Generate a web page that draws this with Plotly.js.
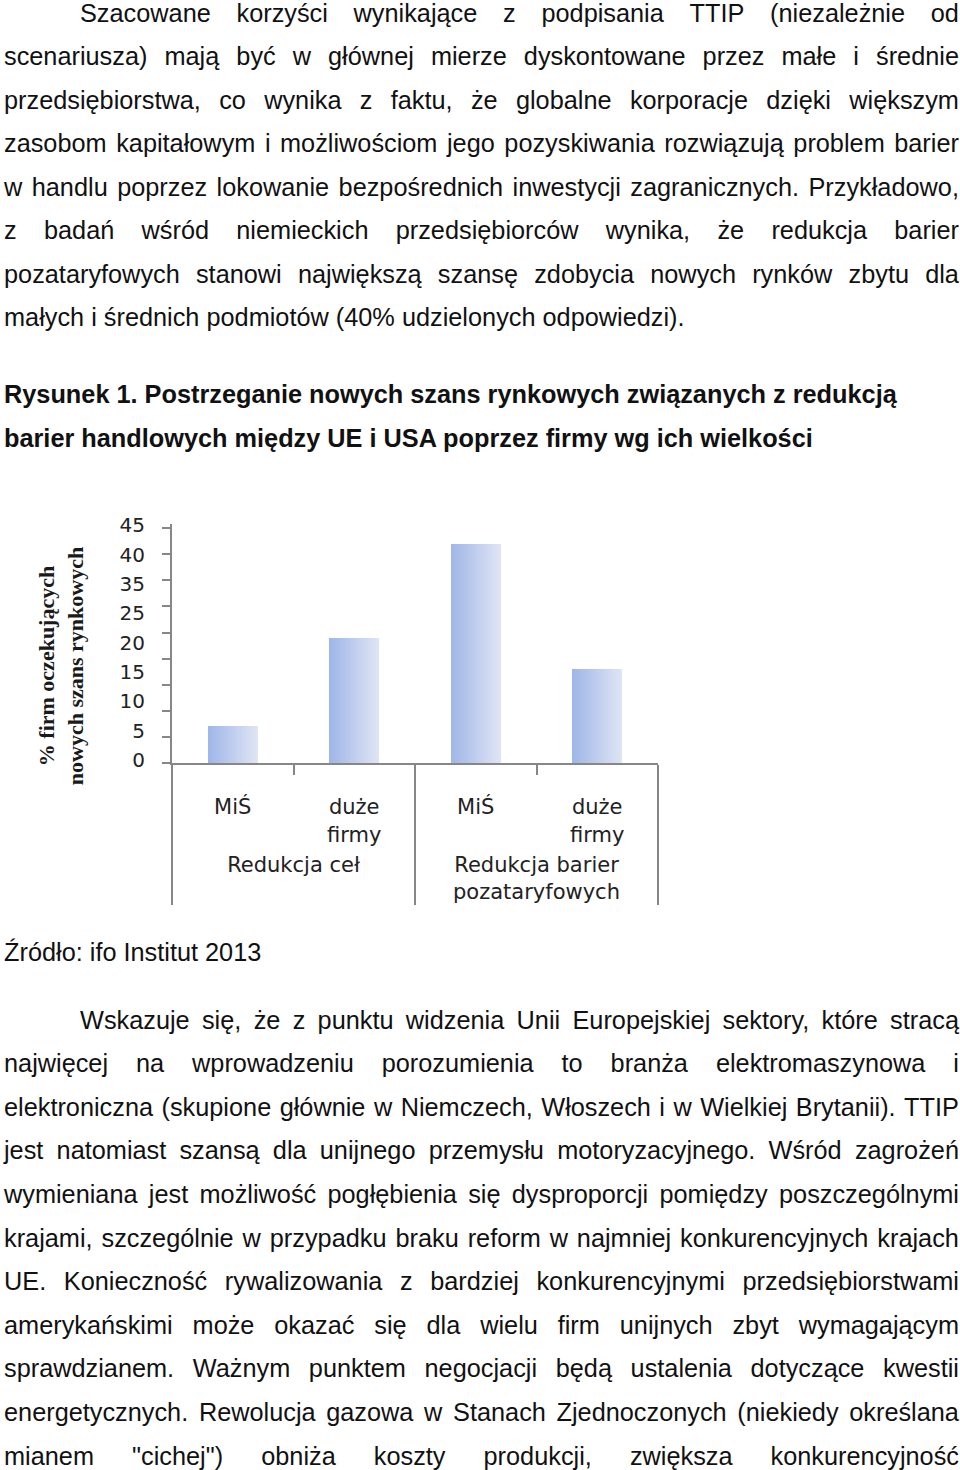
<!DOCTYPE html>
<html>
<head>
<meta charset="utf-8">
<script src="https://cdn.plot.ly/plotly-3.0.1.min.js"></script>
<style>
  html, body { margin:0; padding:0; background:#fff; }
  body { width:960px; height:1470px; position:relative; overflow:hidden; }
  .ln { position:absolute; left:4px; width:955px; height:43.6px; line-height:43.6px;
        font-family:'Liberation Sans', Arial, sans-serif; font-size:25.3px; color:#111;
        white-space:nowrap; }
  .just { display:flex; justify-content:space-between; }
  .bold { font-weight:bold; }
  #chart { position:absolute; left:0; top:480px; width:700px; height:460px; }
</style>
</head>
<body>
<div id="doc"></div>
<div id="chart"></div>
<script>
// ---- chart data ----
var groups = ['<br>Redukcja ceł', '<br>Redukcja ceł', '<br>Redukcja barier<br>pozataryfowych', '<br>Redukcja barier<br>pozataryfowych'];
var firmSizes = ['MiŚ', 'duże<br>firmy', 'MiŚ', 'duże<br>firmy'];
var sharePct = [7, 24, 42, 18];
var yTickLabels = ['0', '5', '10', '15', '20', '25', '35', '40', '45'];
var yTitle = '% firm oczekujących<br>nowych szans rynkowych';

// ---- document text ----
var para1 = [
  'Szacowane korzyści wynikające z podpisania TTIP (niezależnie od',
  'scenariusza) mają być w głównej mierze dyskontowane przez małe i średnie',
  'przedsiębiorstwa, co wynika z faktu, że globalne korporacje dzięki większym',
  'zasobom kapitałowym i możliwościom jego pozyskiwania rozwiązują problem barier',
  'w handlu poprzez lokowanie bezpośrednich inwestycji zagranicznych. Przykładowo,',
  'z badań wśród niemieckich przedsiębiorców wynika, że redukcja barier',
  'pozataryfowych stanowi największą szansę zdobycia nowych rynków zbytu dla',
  'małych i średnich podmiotów (40% udzielonych odpowiedzi).'
];
var heading = [
  'Rysunek 1. Postrzeganie nowych szans rynkowych związanych z redukcją',
  'barier handlowych między UE i USA poprzez firmy wg ich wielkości'
];
var source = ['Źródło: ifo Institut 2013'];
var para2 = [
  'Wskazuje się, że z punktu widzenia Unii Europejskiej sektory, które stracą',
  'najwięcej na wprowadzeniu porozumienia to branża elektromaszynowa i',
  'elektroniczna (skupione głównie w Niemczech, Włoszech i w Wielkiej Brytanii). TTIP',
  'jest natomiast szansą dla unijnego przemysłu motoryzacyjnego. Wśród zagrożeń',
  'wymieniana jest możliwość pogłębienia się dysproporcji pomiędzy poszczególnymi',
  'krajami, szczególnie w przypadku braku reform w najmniej konkurencyjnych krajach',
  'UE. Konieczność rywalizowania z bardziej konkurencyjnymi przedsiębiorstwami',
  'amerykańskimi może okazać się dla wielu firm unijnych zbyt wymagającym',
  'sprawdzianem. Ważnym punktem negocjacji będą ustalenia dotyczące kwestii',
  'energetycznych. Rewolucja gazowa w Stanach Zjednoczonych (niekiedy określana',
  'mianem "cichej") obniża koszty produkcji, zwiększa konkurencyjność'
];

var doc = document.getElementById('doc');
function addLines(lines, top, step, opts) {
  lines.forEach(function (t, i) {
    var d = document.createElement('div');
    d.className = 'ln' + (opts.bold ? ' bold' : '');
    d.style.top = (top + i * step) + 'px';
    var indent = (opts.indent && i === 0) ? 76 : 0;
    if (indent) { d.style.left = (4 + indent) + 'px'; d.style.width = (955 - indent) + 'px'; }
    var justify = opts.justify && (i < lines.length - 1 || opts.justifyLast);
    if (justify) {
      d.className += ' just';
      t.split(' ').forEach(function (w) {
        var s = document.createElement('span');
        s.textContent = w;
        d.appendChild(s);
      });
    } else {
      d.textContent = t;
    }
    doc.appendChild(d);
  });
}
addLines(para1, -8.5, 43.57, {indent:true, justify:true});
addLines(heading, 372.5, 44, {bold:true});
addLines(source, 930.5, 43.6, {});
addLines(para2, 998.5, 43.6, {indent:true, justify:true, justifyLast:true});

// ---- chart ----
var axisColor = '#878787';
var bars = {
  type: 'bar',
  x: [groups, firmSizes],
  y: sharePct,
  width: 0.41,
  marker: { color: '#bfcdec', line: { width: 0 } },
  hoverinfo: 'skip'
};
var helper = {
  type: 'scatter', mode: 'markers',
  x: [groups.slice(0, 1), firmSizes.slice(0, 1)],
  y: [0], yaxis: 'y2',
  marker: { opacity: 0 }, hoverinfo: 'skip', showlegend: false
};
var layout = {
  width: 700, height: 460,
  margin: { l: 172, r: 42, t: 44, b: 177 },
  paper_bgcolor: 'rgba(0,0,0,0)', plot_bgcolor: 'rgba(0,0,0,0)',
  showlegend: false,
  bargap: 0,
  xaxis: {
    type: 'multicategory',
    showline: true, linecolor: axisColor, linewidth: 2,
    ticks: 'outside', ticklen: 10, tickcolor: axisColor, tickwidth: 2,
    showdividers: true, dividercolor: axisColor, dividerwidth: 2,
    showgrid: false, zeroline: false,
    ticklabelstandoff: 24,
    tickfont: { family: 'DejaVu Sans', size: 21, color: '#222' }
  },
  yaxis: {
    range: [0, 45.8], dtick: 5, tick0: 0,
    showline: true, linecolor: axisColor, linewidth: 2,
    ticks: 'outside', ticklen: 8, tickcolor: axisColor, tickwidth: 2,
    showticklabels: false, showgrid: false, zeroline: false, fixedrange: true
  },
  yaxis2: {
    overlaying: 'y', side: 'left',
    range: [-0.1, 8.05],
    tickmode: 'array',
    tickvals: yTickLabels.map(function (_, i) { return i; }),
    ticktext: yTickLabels,
    ticks: '', showline: false, showgrid: false, zeroline: false,
    ticklabelstandoff: 26,
    tickfont: { family: 'DejaVu Sans', size: 20, color: '#222' }
  },
  annotations: [{
    text: yTitle, textangle: -90, showarrow: false,
    xref: 'paper', yref: 'paper', x: -0.228, y: 0.406,
    xanchor: 'center', yanchor: 'middle',
    font: { family: 'Liberation Serif', size: 22, weight: 'bold', color: '#1a1a1a' }
  }]
};

Plotly.newPlot('chart', [bars, helper], layout, { staticPlot: true, displayModeBar: false }).then(function (gd) {
  var svg = gd.querySelector('.main-svg');
  var ns = 'http://www.w3.org/2000/svg';
  var defs = svg.querySelector('defs') || svg.insertBefore(document.createElementNS(ns, 'defs'), svg.firstChild);
  var g = document.createElementNS(ns, 'linearGradient');
  g.setAttribute('id', 'barGrad');
  g.setAttribute('x1', '0'); g.setAttribute('x2', '1'); g.setAttribute('y1', '0'); g.setAttribute('y2', '0');
  [['0', '#9fb6e8'], ['0.5', '#bfcdee'], ['1', '#dfe5f4']].forEach(function (s) {
    var st = document.createElementNS(ns, 'stop');
    st.setAttribute('offset', s[0]); st.setAttribute('stop-color', s[1]);
    g.appendChild(st);
  });
  defs.appendChild(g);
  gd.querySelectorAll('.barlayer .point path').forEach(function (p) {
    p.style.fill = 'url(#barGrad)';
  });
});
</script>
</body>
</html>
